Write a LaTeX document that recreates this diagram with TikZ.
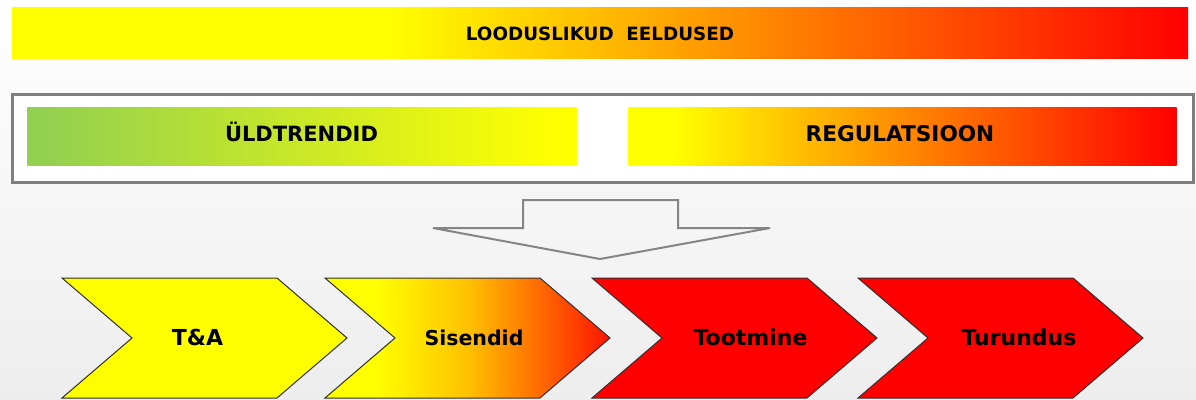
\documentclass[tikz,border=0pt]{standalone}
\usepackage{fontspec}
\setmainfont{DejaVu Sans}
\definecolor{pyellow}{rgb}{1,1,0}
\definecolor{pred}{rgb}{1,0,0}
\definecolor{sismid}{rgb}{1,0.75,0}
\definecolor{sisend}{rgb}{1,0.08,0}
\definecolor{lgreen}{HTML}{92D050}
\definecolor{chevline}{HTML}{303030}
\definecolor{arrowgray}{HTML}{858585}
\definecolor{framegray}{HTML}{7F7F7F}
\pgfdeclarehorizontalshading{topbar}{100bp}{color(0bp)=(pyellow); color(41bp)=(pyellow); color(75bp)=(pred); color(100bp)=(pred)}
\pgfdeclarehorizontalshading{trendshade}{100bp}{color(0bp)=(lgreen); color(26bp)=(lgreen); color(73bp)=(pyellow); color(100bp)=(pyellow)}
\pgfdeclarehorizontalshading{regshade}{100bp}{color(0bp)=(pyellow); color(29bp)=(pyellow); color(75bp)=(pred); color(100bp)=(pred)}
\pgfdeclarehorizontalshading{sisshade}{100bp}{color(0bp)=(pyellow); color(34bp)=(pyellow); color(50.4bp)=(sismid); color(75bp)=(sisend); color(100bp)=(sisend)}
\tikzset{
  barbox/.style={inner sep=0pt, outer sep=0pt, shade},
  framebox/.style={draw=framegray, line width=3pt, fill=white, inner sep=0pt, outer sep=0pt},
  chev/.style={draw=chevline, line width=1pt, line join=miter},
  chevtext/.style={anchor=base, inner sep=0pt, font=\bfseries\fontsize{22}{26}\selectfont, text=black},
  bartext/.style={anchor=base, inner sep=0pt, text=black},
  arrowline/.style={draw=arrowgray, line width=2pt, line join=miter}
}
\begin{document}
\begin{tikzpicture}[x=1pt,y=-1pt]
\useasboundingbox (0,0) rectangle (1196,399);
% background
\fill[top color=white, bottom color=black!7] (0,0) rectangle (1196,399);
% top bar
\node[barbox, shading=topbar, minimum width=1176pt, minimum height=51pt] (loodus) at (600,32.5) {};
\node[bartext, font=\bfseries\fontsize{18.3}{22}\selectfont] (loodustext) at (600,40.5) {LOODUSLIKUD\ \ EELDUSED};
% frame
\node[framebox, minimum width=1181pt, minimum height=88pt] (rahmen) at (602.5,138) {};
\node[barbox, shading=trendshade, minimum width=549pt, minimum height=58pt] (trend) at (301.75,136) {};
\node[bartext, font=\bfseries\fontsize{21}{25}\selectfont] (trendtext) at (301.5,141.5) {ÜLDTRENDID};
\node[barbox, shading=regshade, minimum width=548pt, minimum height=58pt] (reg) at (902.5,136) {};
\node[bartext, font=\bfseries\fontsize{21.6}{25}\selectfont] (regtext) at (900,141.5) {REGULATSIOON};
% big down arrow
\draw[arrowline] (523,200) -- (678,200) -- (678,228) -- (770,228) -- (600,259) -- (433,228) -- (523,228) -- cycle;
% chevrons
\draw[chev, fill=pyellow] (62,278) -- (277,278) -- (347,338) -- (277,398) -- (62,398) -- (132,338) -- cycle;
\path[chev, shade, shading=sisshade] (325,278) -- (540,278) -- (610,338) -- (540,398) -- (325,398) -- (395,338) -- cycle;
\draw[chev, fill=pred] (592,278) -- (807,278) -- (877,338) -- (807,398) -- (592,398) -- (662,338) -- cycle;
\draw[chev, fill=pred] (858,278) -- (1073,278) -- (1143,338) -- (1073,398) -- (858,398) -- (928,338) -- cycle;
\node[chevtext] (ta) at (197.5,345) {T\&A};
\node[chevtext, font=\bfseries\fontsize{20.5}{24}\selectfont] (sis) at (474,345) {Sisendid};
\node[chevtext] (toot) at (750.5,345) {Tootmine};
\node[chevtext] (tur) at (1019,345) {Turundus};
\end{tikzpicture}
\end{document}
